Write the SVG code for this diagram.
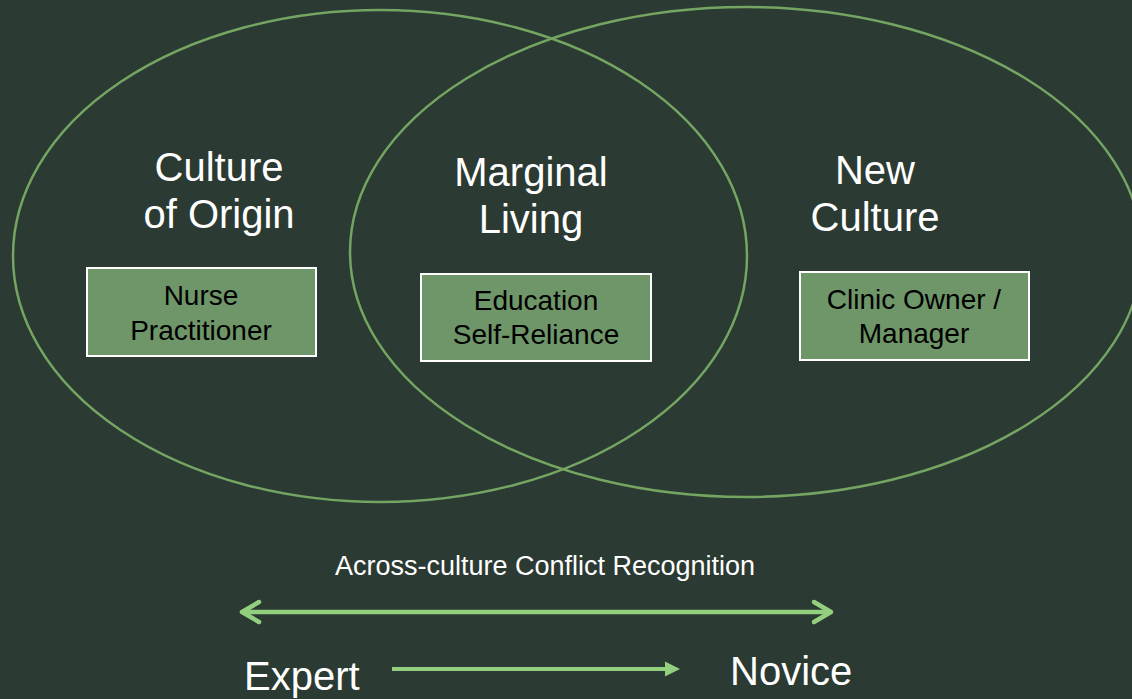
<svg xmlns="http://www.w3.org/2000/svg" width="1132" height="699" viewBox="0 0 1132 699">
<style>
text{font-family:Arial,"Liberation Sans",Helvetica,sans-serif}
.ell{fill:none;stroke:#74a562;stroke-width:2.5}
.box{fill:#6e9668;stroke:#ffffff;stroke-width:2}
.title{font-size:40px;fill:#ffffff;text-anchor:middle}
.lbl{font-size:28px;fill:#000000;text-anchor:middle}
.ax{stroke:#92d07f;stroke-width:4.5;fill:none}
</style>
<rect width="1132" height="699" fill="#2b3a32"/>
<g id="culture-of-origin">
<ellipse class="ell" cx="380" cy="256" rx="367" ry="246"/>
<text class="title" x="219" y="181">Culture</text>
<text class="title" x="219" y="228">of Origin</text>
</g>
<g id="new-culture">
<ellipse class="ell" cx="746" cy="252" rx="396" ry="245"/>
<text class="title" x="875" y="184">New</text>
<text class="title" x="875" y="231">Culture</text>
</g>
<g id="marginal-living">
<text class="title" x="531" y="186">Marginal</text>
<text class="title" x="531" y="233">Living</text>
</g>
<g id="nurse-practitioner">
<rect class="box" x="87" y="268" width="229" height="88"/>
<text class="lbl" x="201" y="305">Nurse</text>
<text class="lbl" x="201" y="340">Practitioner</text>
</g>
<g id="education">
<rect class="box" x="421" y="274" width="230" height="87"/>
<text class="lbl" x="536" y="310">Education</text>
<text class="lbl" x="536" y="344">Self-Reliance</text>
</g>
<g id="clinic-owner">
<rect class="box" x="800" y="272" width="229" height="88"/>
<text class="lbl" x="914" y="309">Clinic Owner /</text>
<text class="lbl" x="914" y="343">Manager</text>
</g>
<g id="connectors">
<text x="545" y="575" font-size="27" fill="#ffffff" text-anchor="middle">Across-culture Conflict Recognition</text>
<line class="ax" x1="242" y1="612" x2="831" y2="612"/>
<polyline class="ax" points="259,602 242,612 259,622" stroke-linecap="round" stroke-linejoin="round"/>
<polyline class="ax" points="814,602 831,612 814,622" stroke-linecap="round" stroke-linejoin="round"/>
<line x1="392" y1="669" x2="667" y2="669" stroke="#92d07f" stroke-width="4"/>
<path d="M665,661.5 L680,669 L665,676.5 Z" fill="#92d07f"/>
</g>
<g id="scale">
<text x="244" y="690" font-size="40" fill="#ffffff">Expert</text>
<text x="730" y="685" font-size="40" fill="#ffffff">Novice</text>
</g>
</svg>
